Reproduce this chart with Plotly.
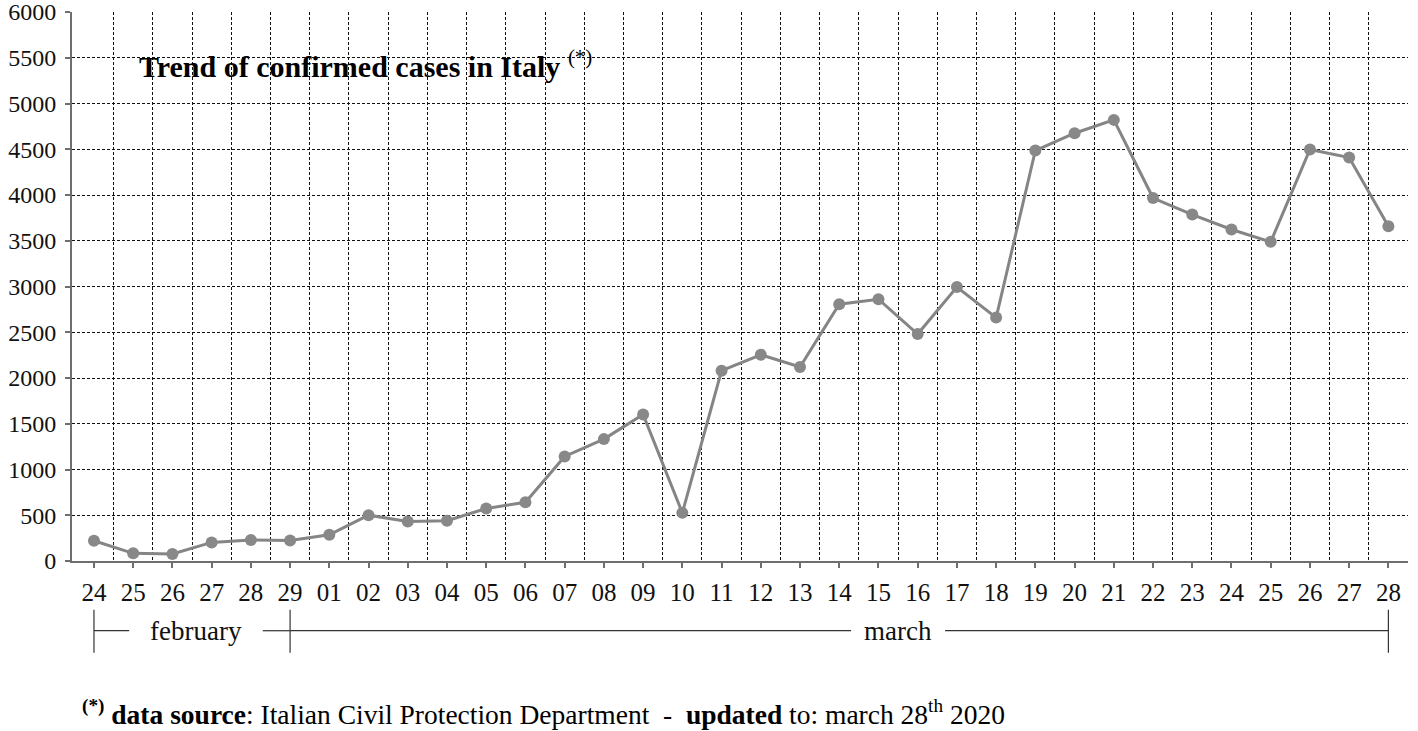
import plotly.graph_objects as go

# ---- data ----
day_labels = ["24", "25", "26", "27", "28", "29",
              "01", "02", "03", "04", "05", "06", "07", "08", "09", "10",
              "11", "12", "13", "14", "15", "16", "17", "18", "19", "20",
              "21", "22", "23", "24", "25", "26", "27", "28"]
cases = [221, 84, 76, 203, 229, 225,
         287, 501, 432, 441, 574, 642, 1143, 1332, 1601, 526,
         2080, 2254, 2120, 2806, 2861, 2480, 2995, 2660, 4486, 4675,
         4821, 3967, 3786, 3623, 3488, 4497, 4410, 3659]
y_ticks = list(range(0, 6001, 500))
month_names = ["february", "march"]
month_start = [0, 5]
month_end = [5, 33]
month_label_pos = [2.6, 20.5]
title_text = "<b>Trend of confirmed cases in Italy</b> <sup>(*)</sup>"
footnote_text = ("<b><sup>(*)</sup> data source</b>: Italian Civil Protection Department  -  "
                 "<b>updated</b> to: march 28<sup>th</sup> 2020")

x_idx = list(range(len(day_labels)))

FONT = "Liberation Serif, Times New Roman, serif"
W, H = 1418, 731
ML, MR, MT, MB = 72, 10, 12, 170
plot_w = W - ML - MR
x_range = [-0.56, len(day_labels) - 0.5]
px_per_unit = plot_w / (x_range[1] - x_range[0])

fig = go.Figure()
fig.add_trace(go.Scatter(
    x=x_idx, y=cases, mode="lines+markers",
    line=dict(color="#858585", width=3),
    marker=dict(color="#888888", size=12),
    showlegend=False, hoverinfo="skip", cliponaxis=False))

fig.update_layout(
    width=W, height=H,
    margin=dict(l=ML, r=MR, t=MT, b=MB, autoexpand=False),
    paper_bgcolor="white", plot_bgcolor="white",
    font=dict(family=FONT, color="#111111"),
    xaxis=dict(
        automargin=False,
        range=x_range, tickmode="array", tickvals=x_idx, ticktext=day_labels,
        showgrid=False, zeroline=False,
        showline=True, linecolor="#6e6e6e", linewidth=2,
        ticks="outside", ticklen=5, tickwidth=1.5, tickcolor="#6e6e6e",
        tickfont=dict(family=FONT, size=25, color="#111111"),
        ticklabelstandoff=3,
        minor=dict(tickvals=[i + 0.5 for i in x_idx], showgrid=True,
                   gridcolor="#111111", gridwidth=1.4, griddash="3px,2px", ticks=""),
    ),
    yaxis=dict(
        automargin=False, ticklabeloverflow="allow",
        range=[0, 6000], tickmode="array", tickvals=y_ticks,
        showgrid=True, gridcolor="#111111", gridwidth=1.4, griddash="3px,2px",
        zeroline=False,
        showline=True, linecolor="#6e6e6e", linewidth=2,
        ticks="outside", ticklen=5, tickwidth=1.5, tickcolor="#6e6e6e",
        tickfont=dict(family=FONT, size=24, color="#111111"),
        ticklabelstandoff=4,
    ),
)

# month brackets
y_line = -0.127
y_bar0, y_bar1 = -0.089, -0.167
line_style = dict(color="#333333", width=1.2)
for name, s, e, pos in zip(month_names, month_start, month_end, month_label_pos):
    gap = (len(name) * 6.6 + 14) / px_per_unit
    fig.add_shape(type="line", xref="x", yref="paper", x0=s, x1=pos - gap,
                  y0=y_line, y1=y_line, line=line_style)
    fig.add_shape(type="line", xref="x", yref="paper", x0=pos + gap, x1=e,
                  y0=y_line, y1=y_line, line=line_style)
    fig.add_annotation(x=pos, y=y_line, xref="x", yref="paper", text=name,
                       showarrow=False, xanchor="center", yanchor="middle",
                       font=dict(family=FONT, size=27, color="#111111"))
for b in sorted(set(month_start + month_end)):
    fig.add_shape(type="line", xref="x", yref="paper", x0=b, x1=b,
                  y0=y_bar0, y1=y_bar1, line=line_style)

fig.add_annotation(x=0.049, y=0.906, xref="paper", yref="paper", text=title_text,
                   showarrow=False, xanchor="left", yanchor="middle",
                   font=dict(family=FONT, size=30, color="#000000"))
fig.add_annotation(x=0.006, y=-0.276, xref="paper", yref="paper", text=footnote_text,
                   showarrow=False, xanchor="left", yanchor="middle",
                   font=dict(family=FONT, size=27.5, color="#000000"))

fig.write_html("out.html", config={"displayModeBar": False},
               post_script="document.body.style.margin='0';")
